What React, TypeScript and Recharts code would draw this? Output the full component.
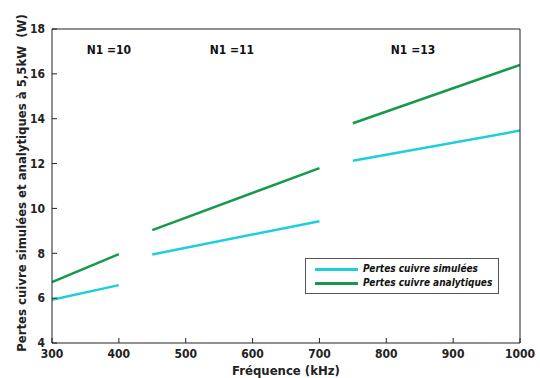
import {
  Legend,
  Line,
  LineChart,
  ReferenceDot,
  XAxis,
  YAxis,
} from "recharts";

// three winding configurations, each its own frequency range
const segFreqs = [
  [300, 400],
  [450, 700],
  [750, 1000],
];
const simulees = [
  [5.93, 6.58],
  [7.95, 9.43],
  [12.13, 13.47],
];
const analytiques = [
  [6.72, 7.96],
  [9.03, 11.8],
  [13.8, 16.4],
];
const turnLabels = ["N1 =10", "N1 =11", "N1 =13"];
const turnLabelX = [385, 569, 840];
const xTicks = [300, 400, 500, 600, 700, 800, 900, 1000];
const yTicks = [4, 6, 8, 10, 12, 14, 16, 18];

const CYAN = "#1ccfd8";
const GREEN = "#17994d";
const FONT = "'DejaVu Sans Condensed', 'DejaVu Sans', sans-serif";

const seg = (i: number, vals: number[][]) =>
  segFreqs[i].map((f, j) => ({ f, v: vals[i][j] }));

function LegendBox() {
  const items = [
    { name: "Pertes cuivre simulées", color: CYAN },
    { name: "Pertes cuivre analytiques", color: GREEN },
  ];
  return (
    <div
      style={{
        border: "1px solid #555",
        background: "#fff",
        padding: "3px 3px 3px 9px",
        width: 194,
        boxSizing: "border-box",
        whiteSpace: "nowrap",
        fontFamily: FONT,
        fontStyle: "italic",
        fontWeight: "bold",
        fontSize: 10,
        lineHeight: "14px",
        color: "#111",
        textAlign: "left",
      }}
    >
      {items.map((it) => (
        <div key={it.name} style={{ display: "flex", alignItems: "center" }}>
          <span
            style={{
              display: "inline-block",
              width: 43,
              height: 3,
              background: it.color,
              marginRight: 5,
              flex: "none",
            }}
          />
          {it.name}
        </div>
      ))}
    </div>
  );
}

export default function App() {
  return (
    <div style={{ position: "absolute", left: 0, top: 0, background: "#fff" }}>
      <LineChart
        width={540}
        height={378}
        margin={{ top: 29, right: 20, bottom: 0, left: 0 }}
        style={{ fontFamily: FONT }}
      >
        <XAxis
          dataKey="f"
          type="number"
          domain={[300, 1000]}
          ticks={xTicks}
          allowDataOverflow
          height={35}
          stroke="#222"
          tickSize={-5}
          tickMargin={11}
          tick={{ fill: "#222", fontSize: 12, fontWeight: "bold" }}
          label={{
            value: "Fréquence (kHz)",
            position: "insideBottom",
            offset: 3,
            fill: "#222",
            fontSize: 13,
            fontWeight: "bold",
          }}
        />
        <XAxis
          xAxisId="top"
          dataKey="f"
          type="number"
          orientation="top"
          mirror
          domain={[300, 1000]}
          ticks={xTicks}
          stroke="#222"
          tickSize={5}
          tickFormatter={() => ""}
        />
        <YAxis
          type="number"
          domain={[4, 18]}
          ticks={yTicks}
          allowDataOverflow
          width={52}
          stroke="#222"
          tickSize={-5}
          tickMargin={12}
          tick={{ fill: "#222", fontSize: 12, fontWeight: "bold" }}
          label={{
            value: "Pertes cuivre simulées et analytiques à 5,5kW\u00a0\u00a0(W)",
            angle: -90,
            position: "center",
            dx: -5,
            dy: -3,
            fill: "#222",
            fontSize: 13,
            fontWeight: "bold",
          }}
        />
        <YAxis
          yAxisId="right"
          orientation="right"
          mirror
          domain={[4, 18]}
          ticks={yTicks}
          stroke="#222"
          tickSize={5}
          tickFormatter={() => ""}
        />
        <Legend
          layout="horizontal"
          verticalAlign="middle"
          align="center"
          content={() => <LegendBox />}
          wrapperStyle={{ left: 305, top: 258, width: 194 }}
        />
        {segFreqs.map((_, i) => (
          <Line
            key={"s" + i}
            data={seg(i, simulees)}
            dataKey="v"
            name="Pertes cuivre simulées"
            stroke={CYAN}
            strokeWidth={2.5}
            dot={false}
            isAnimationActive={false}
          />
        ))}
        {segFreqs.map((_, i) => (
          <Line
            key={"a" + i}
            data={seg(i, analytiques)}
            dataKey="v"
            name="Pertes cuivre analytiques"
            stroke={GREEN}
            strokeWidth={2.5}
            dot={false}
            isAnimationActive={false}
          />
        ))}
        {turnLabels.map((t, i) => (
          <ReferenceDot
            key={t}
            x={turnLabelX[i]}
            y={17.07}
            r={0}
            stroke="none"
            label={{
              value: t,
              position: "center",
              fill: "#111",
              fontSize: 12,
              fontWeight: "bold",
            }}
          />
        ))}
      </LineChart>
    </div>
  );
}
